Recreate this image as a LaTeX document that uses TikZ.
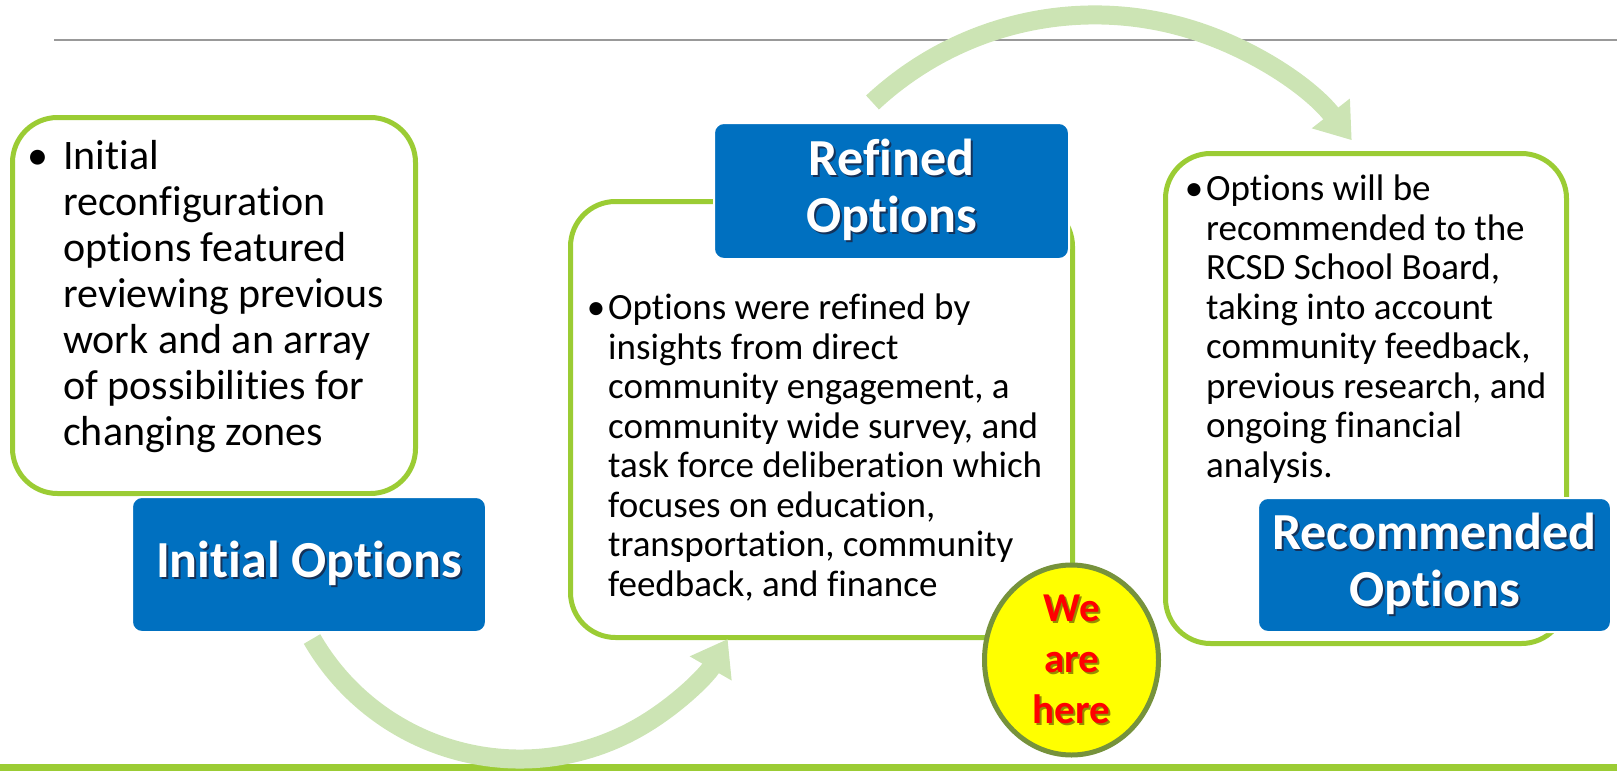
\documentclass[tikz,border=0pt]{standalone}
\usepackage{fontspec}
\setmainfont{Carlito}[Ligatures=NoCommon]
\usetikzlibrary{arrows.meta,shapes.geometric,calc}
\definecolor{leafgreen}{RGB}{155,204,52}
\definecolor{palegreen}{RGB}{204,228,180}
\definecolor{stepblue}{RGB}{0,112,192}
\definecolor{olivering}{RGB}{118,146,60}
\definecolor{sun}{RGB}{255,255,0}
\definecolor{blueshade}{RGB}{20,50,90}
\definecolor{sunshade}{RGB}{150,140,0}
\newcommand{\shtxt}[2]{\leavevmode\rlap{\kern2pt\raisebox{-2pt}{\textcolor{#1}{#2}}}#2}
\tikzset{
  stagebox/.style={draw=leafgreen,line width=5pt,fill=white,rounded corners=45pt,inner sep=0pt},
  titlebox/.style={fill=stepblue,draw=white,line width=2pt,rounded corners=10pt,text=white,
    font=\bfseries\fontsize{52}{57}\selectfont,align=center,inner sep=0pt},
  bodytext/.style={align=left,inner sep=0pt,anchor=base west},
  flow/.style={palegreen,line width=19pt,-{Triangle[width=46pt,length=34pt]}}
}

\begin{document}
\begin{tikzpicture}[x=1pt,y=-1pt]
		\useasboundingbox (0,0) rectangle (1617,771);
		\draw[black!40,line width=2pt] (54,40)--(1617,40);
		\fill[leafgreen] (0,764) rectangle (1617,771);
		\node[stagebox,minimum width=403pt,minimum height=376pt] (initbox) at (214,305.5) {};
		\node[stagebox,minimum width=502pt,minimum height=436pt] (midbox) at (821.5,419.5) {};
		\node[stagebox,minimum width=401pt,minimum height=490pt] (recbox) at (1366,398.5) {};
		\node[bodytext,font=\fontsize{42}{46}\selectfont] (inittext) at (63,445)
			{\llap{\textbullet\hspace{15pt}}Initial\\reconfiguration\\options featured\\reviewing previous\\work and an array\\of possibilities for\\changing zones};
		\node[bodytext,font=\fontsize{37}{39.5}\selectfont] (midtext) at (608,596)
			{\llap{\textbullet\hspace{3pt}}Options were refined by\\insights from direct\\community engagement, a\\community wide survey, and\\task force deliberation which\\focuses on education,\\transportation, community\\feedback, and finance};
		\node[bodytext,font=\fontsize{37}{39.5}\selectfont] (rectext) at (1206,477)
			{\llap{\textbullet\hspace{3pt}}Options will be\\recommended to the\\RCSD School Board,\\taking into account\\community feedback,\\previous research, and\\ongoing financial\\analysis.};
		\node[titlebox,minimum width=354pt,minimum height=135pt] (init) at (309,564.5) {\shtxt{blueshade}{Initial Options}};
		\node[titlebox,minimum width=355pt,minimum height=136pt] (ref) at (891.5,191) {\shtxt{blueshade}{Refined}\\\shtxt{blueshade}{Options}};
		\node[titlebox,minimum width=353pt,minimum height=134pt] (rec) at (1434.5,565) {\shtxt{blueshade}{Recommended}\\\shtxt{blueshade}{Options}};
		\node[ellipse,draw=olivering,line width=5pt,fill=sun,minimum width=174pt,minimum height=190pt,inner sep=0pt,
			text=red,font=\bfseries\fontsize{41}{51}\selectfont,align=center] (here) at (1071.5,660)
			{\shtxt{sunshade}{We}\\\shtxt{sunshade}{are}\\\shtxt{sunshade}{here}};
		\draw[flow] ($(init.south)+(3,6)$) arc[start angle=150,end angle=30,radius=240];
		\draw[flow] ($(ref.north)+(-19,-19.5)$) arc[start angle=-133,end angle=-38,radius=326];
	\end{tikzpicture}
\end{document}
